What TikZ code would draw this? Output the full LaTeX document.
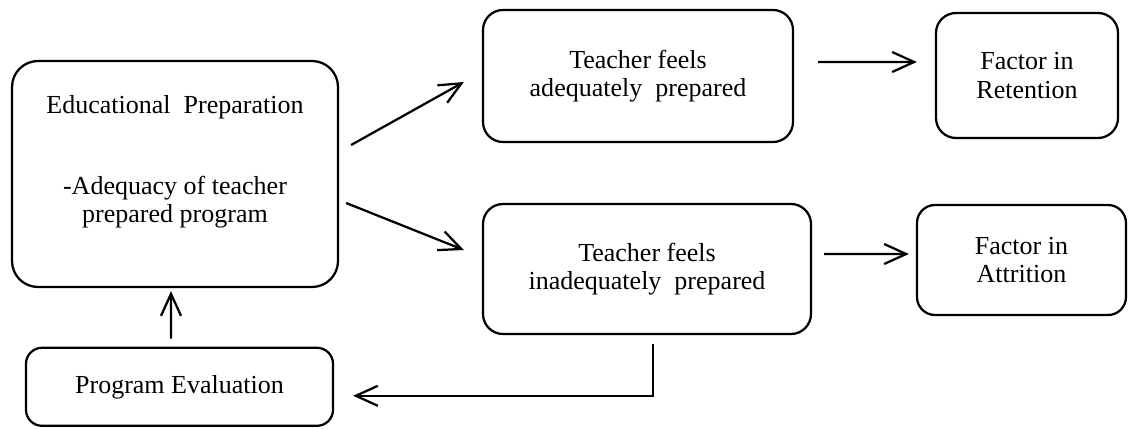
\documentclass[tikz,border=0pt]{standalone}
\usepackage{fontspec}
\setmainfont{Liberation Serif}
\usetikzlibrary{arrows.meta}

\begin{document}
\begin{tikzpicture}[
  box/.style={draw,line width=1.6pt,rounded corners=0.5cm,inner sep=0pt,align=center,font=\fontsize{18.5}{20.3}\selectfont},
  arr/.style={-{Straight Barb[length=0.55cm,width=0.5cm]},line width=1.6pt}
]
\useasboundingbox (0,0) rectangle (28.225,10.7);
\draw (4.375,6.35) node[box,rounded corners=0.65cm,minimum width=8.15cm,minimum height=5.65cm](edu) {};
\draw (4.375,6.65) node[align=center,font=\fontsize{18.5}{20.3}\selectfont](edutext) {Educational\ \ Preparation\\[37pt]-Adequacy of teacher\\prepared program};
\draw (15.95,8.8) node[box,minimum width=7.75cm,minimum height=3.3cm](adeq) {Teacher feels\\adequately\ \ prepared};
\draw (16.175,3.975) node[box,minimum width=8.2cm,minimum height=3.25cm](inadeq) {Teacher feels\\inadequately\ \ prepared};
\draw (25.675,8.8125) node[box,minimum width=4.55cm,minimum height=3.125cm](ret) {Factor in\\Retention};
\draw (25.5375,4.2) node[box,rounded corners=0.45cm,minimum width=5.225cm,minimum height=2.75cm](attr) {Factor in\\Attrition};
\draw (4.4875,1.03) node[box,rounded corners=0.4cm,minimum width=7.675cm,minimum height=1.95cm](prog) {Program Evaluation};
\draw[arr] ([shift={(0.3,0.725)}]edu.east) -- ([shift={(-0.45,-0.15)}]adeq.west);
\draw[arr] ([shift={(0.175,-0.725)}]edu.east) -- ([shift={(-0.45,0.475)}]inadeq.west);
\draw[arr] ([shift={(0.6,0.35)}]adeq.east) -- ([shift={(-0.45,0.3375)}]ret.west);
\draw[arr] ([shift={(0.3,0.375)}]inadeq.east) -- ([shift={(-0.175,0.15)}]attr.west);
\draw[arr] ([shift={(-0.2125,0.2)}]prog.north) -- ([shift={(-0.1,-0.075)}]edu.south);
\draw[arr] ([shift={(0.15,-0.225)}]inadeq.south) |- ([shift={(0.475,-0.225)}]prog.east);
\end{tikzpicture}
\end{document}
